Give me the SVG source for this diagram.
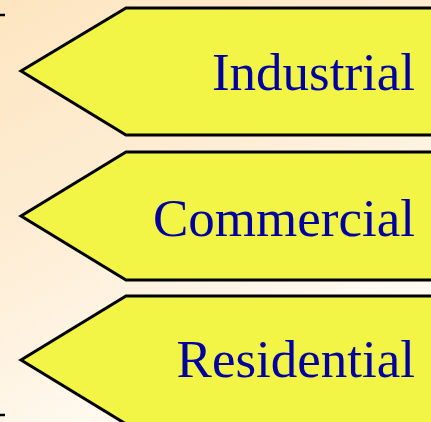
<svg xmlns="http://www.w3.org/2000/svg" width="431" height="422" viewBox="0 0 431 422">
  <defs>
    <linearGradient id="bg" x1="0" y1="0" x2="0.5" y2="1">
      <stop offset="0" stop-color="#fde5c0"/>
      <stop offset="0.5" stop-color="#feeed6"/>
      <stop offset="1" stop-color="#fffcf6"/>
    </linearGradient>
  </defs>
  <style>
    .tag { fill: #f2f545; stroke: #000; stroke-width: 3; stroke-linejoin: miter; }
    .lbl { font-family: "Liberation Serif", "Times New Roman", serif; font-size: 53px; fill: #0000a0; text-anchor: end; }
    .tick { stroke: #000; stroke-width: 2.5; }
  </style>
  <rect width="431" height="422" fill="url(#bg)"/>
  <g id="ticks">
    <line class="tick" x1="0" y1="15" x2="5" y2="15"/>
    <line class="tick" x1="0" y1="415" x2="5" y2="415"/>
  </g>
  <g id="industrial">
    <polygon class="tag" points="126,8 440,8 440,135 126,135 21,71"/>
    <text class="lbl" x="415" y="90">Industrial</text>
  </g>
  <g id="commercial">
    <polygon class="tag" points="126,152 440,152 440,280 126,280 21,216"/>
    <text class="lbl" x="415" y="236">Commercial</text>
  </g>
  <g id="residential">
    <polygon class="tag" points="126,296 440,296 440,424 126,424 21,360"/>
    <text class="lbl" x="415" y="377">Residential</text>
  </g>
  <g id="connectors"/>
</svg>
